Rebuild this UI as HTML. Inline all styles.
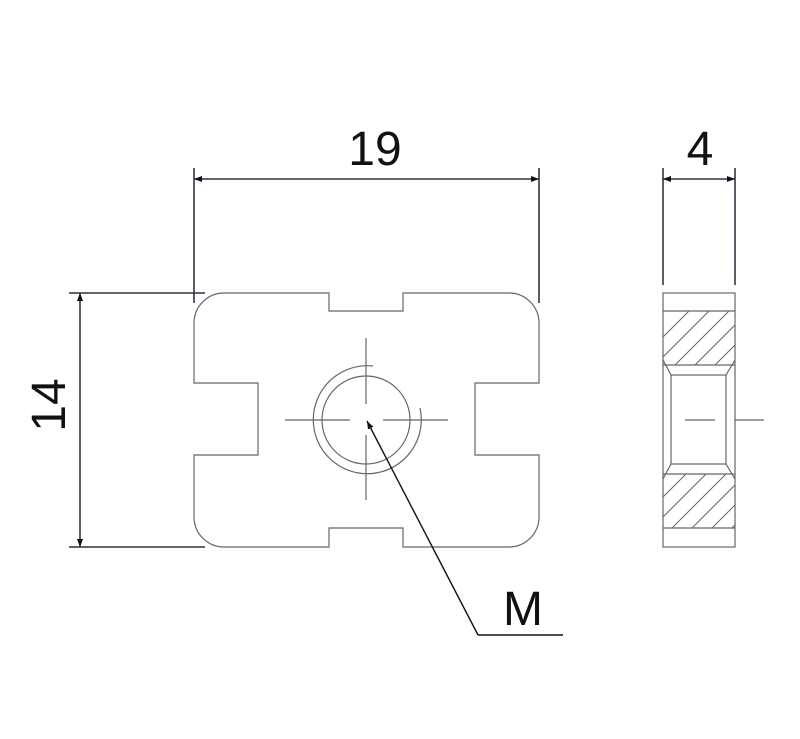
<!DOCTYPE html>
<html><head><style>html,body{margin:0;padding:0;background:#fff}svg{display:block}</style></head>
<body>
<svg width="800" height="739" viewBox="0 0 800 739" xmlns="http://www.w3.org/2000/svg">
<defs>
<marker id="ar" markerWidth="8" markerHeight="6" refX="8" refY="3" orient="auto-start-reverse" markerUnits="userSpaceOnUse">
<path d="M8,3 L0,0 L0,6 Z" fill="#111"/></marker>
<clipPath id="h1"><rect x="663" y="311" width="72" height="54"/></clipPath>
<clipPath id="h2"><rect x="663" y="474" width="72" height="54"/></clipPath>
</defs>
<g stroke="#333344" stroke-width="1.6" fill="none">
<line x1="194" y1="168" x2="194" y2="303"/>
<line x1="539" y1="168" x2="539" y2="303"/>
<line x1="194" y1="179" x2="539" y2="179" marker-start="url(#ar)" marker-end="url(#ar)"/>
<line x1="69" y1="293" x2="205" y2="293"/>
<line x1="69" y1="547" x2="205" y2="547"/>
<line x1="80" y1="293" x2="80" y2="547" marker-start="url(#ar)" marker-end="url(#ar)"/>
<line x1="663" y1="168" x2="663" y2="285"/>
<line x1="735" y1="168" x2="735" y2="285"/>
<line x1="663" y1="179" x2="735" y2="179" marker-start="url(#ar)" marker-end="url(#ar)"/>
</g>
<g stroke="#666" stroke-width="1.2" fill="none">
<path d="M224,293 H329 V311 H403 V293 H509 A30,30 0 0 1 539,323 V383 H475 V455 H539 V517 A30,30 0 0 1 509,547 H403 V528 H329 V547 H224 A30,30 0 0 1 194,517 V455 H258 V383 H194 V323 A30,30 0 0 1 224,293 Z"/>
<circle cx="366" cy="420" r="44"/>
<path d="M373,366 A54,54 0 1 0 420,408"/>
<line x1="285" y1="420" x2="350" y2="420"/><line x1="383" y1="420" x2="448" y2="420"/>
<line x1="366" y1="338" x2="366" y2="404"/><line x1="366" y1="435" x2="366" y2="500"/>
<rect x="663" y="293" width="72" height="254"/>
<line x1="663" y1="311" x2="735" y2="311"/>
<line x1="663" y1="365" x2="735" y2="365"/>
<line x1="663" y1="474" x2="735" y2="474"/>
<line x1="663" y1="528" x2="735" y2="528"/>
<rect x="671" y="375" width="55" height="89"/>
<path d="M663,360 L671,375 M735,360 L726,375 M663,479 L671,464 M735,479 L726,464"/>
<line x1="685" y1="420" x2="715" y2="420"/><line x1="735" y1="420" x2="764" y2="420"/>
<g clip-path="url(#h1)" stroke-width="1">
<path d="M600,400 L700,300 M620,400 L720,300 M640,400 L740,300 M660,400 L760,300 M680,400 L780,300 M700,400 L800,300"/>
</g>
<g clip-path="url(#h2)" stroke-width="1">
<path d="M600,560 L700,460 M620,560 L720,460 M640,560 L740,460 M660,560 L760,460 M680,560 L780,460 M700,560 L800,460"/>
</g>
</g>
<g stroke="#111" stroke-width="1.4" fill="none">
<line x1="478" y1="635" x2="367" y2="421" marker-end="url(#ar)"/>
<line x1="478" y1="635" x2="563" y2="635"/>
</g>
<g font-family="Liberation Sans, sans-serif" font-size="48" fill="#111" text-anchor="middle">
<text x="375" y="165">19</text>
<text x="700" y="165">4</text>
<text x="523" y="625">M</text>
<text transform="translate(65,405) rotate(-90)">14</text>
</g>
</svg>
</body></html>
